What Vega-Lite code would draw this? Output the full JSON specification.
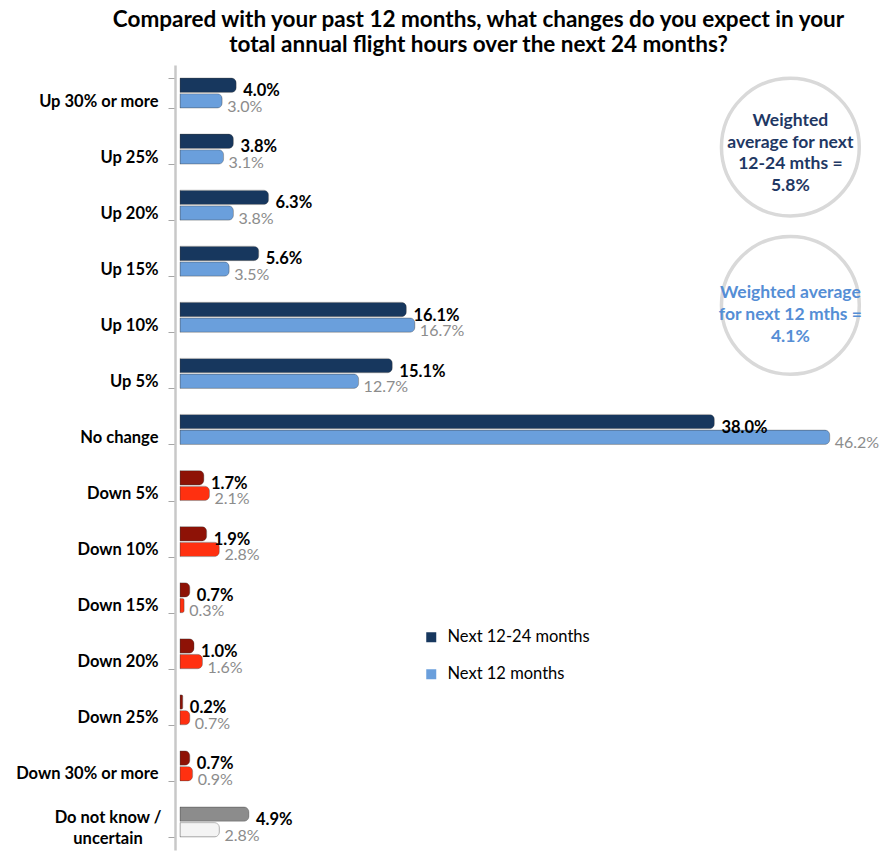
{
  "$schema": "https://vega.github.io/schema/vega-lite/v6.json",
  "width": 661,
  "height": 785,
  "autosize": {"type": "none"},
  "padding": {"left": 180, "top": 65, "right": 40, "bottom": 4},
  "background": "white",
  "config": {"font": "Lato", "view": {"stroke": null}},
  "title": {
    "text": ["Compared with your past 12 months, what changes do you expect in your", "total annual flight hours over the next 24 months?"],
    "fontSize": 22.5,
    "fontWeight": "bold",
    "font": "Lato",
    "color": "#000000",
    "anchor": "middle",
    "dx": -32,
    "offset": 1,
    "lineHeight": 25
  },
  "datasets": {
    "main": [
      {"answer": "Up 30% or more", "kind": "up", "series": "Next 12-24 months", "value": 4.0},
      {"answer": "Up 30% or more", "kind": "up", "series": "Next 12 months", "value": 3.0},
      {"answer": "Up 25%", "kind": "up", "series": "Next 12-24 months", "value": 3.8},
      {"answer": "Up 25%", "kind": "up", "series": "Next 12 months", "value": 3.1},
      {"answer": "Up 20%", "kind": "up", "series": "Next 12-24 months", "value": 6.3},
      {"answer": "Up 20%", "kind": "up", "series": "Next 12 months", "value": 3.8},
      {"answer": "Up 15%", "kind": "up", "series": "Next 12-24 months", "value": 5.6},
      {"answer": "Up 15%", "kind": "up", "series": "Next 12 months", "value": 3.5},
      {"answer": "Up 10%", "kind": "up", "series": "Next 12-24 months", "value": 16.1},
      {"answer": "Up 10%", "kind": "up", "series": "Next 12 months", "value": 16.7},
      {"answer": "Up 5%", "kind": "up", "series": "Next 12-24 months", "value": 15.1},
      {"answer": "Up 5%", "kind": "up", "series": "Next 12 months", "value": 12.7},
      {"answer": "No change", "kind": "up", "series": "Next 12-24 months", "value": 38.0},
      {"answer": "No change", "kind": "up", "series": "Next 12 months", "value": 46.2},
      {"answer": "Down 5%", "kind": "down", "series": "Next 12-24 months", "value": 1.7},
      {"answer": "Down 5%", "kind": "down", "series": "Next 12 months", "value": 2.1},
      {"answer": "Down 10%", "kind": "down", "series": "Next 12-24 months", "value": 1.9},
      {"answer": "Down 10%", "kind": "down", "series": "Next 12 months", "value": 2.8},
      {"answer": "Down 15%", "kind": "down", "series": "Next 12-24 months", "value": 0.7},
      {"answer": "Down 15%", "kind": "down", "series": "Next 12 months", "value": 0.3},
      {"answer": "Down 20%", "kind": "down", "series": "Next 12-24 months", "value": 1.0},
      {"answer": "Down 20%", "kind": "down", "series": "Next 12 months", "value": 1.6},
      {"answer": "Down 25%", "kind": "down", "series": "Next 12-24 months", "value": 0.2},
      {"answer": "Down 25%", "kind": "down", "series": "Next 12 months", "value": 0.7},
      {"answer": "Down 30% or more", "kind": "down", "series": "Next 12-24 months", "value": 0.7},
      {"answer": "Down 30% or more", "kind": "down", "series": "Next 12 months", "value": 0.9},
      {"answer": "Do not know / uncertain", "kind": "unknown", "series": "Next 12-24 months", "value": 4.9},
      {"answer": "Do not know / uncertain", "kind": "unknown", "series": "Next 12 months", "value": 2.8}
    ],
    "lastlabel": [{"answer": "Do not know / uncertain", "x": 0, "text": "Do not know /\nuncertain"}],
    "note1": [{"answer": "Up 25%", "x": 43.4, "note": "Weighted\naverage for next\n12-24 mths =\n5.8%"}],
    "note2": [{"answer": "Up 10%", "x": 43.4, "note": "Weighted average\nfor next 12 mths =\n4.1%"}]
  },
  "layer": [
    {
      "data": {"name": "main"},
      "mark": {"type": "bar", "cornerRadiusEnd": 5, "stroke": "#404040", "strokeWidth": 0.6, "strokeOpacity": 0.5},
      "encoding": {
        "y": {
          "field": "answer", "type": "nominal", "sort": null,
          "scale": {"paddingInner": 0.465, "paddingOuter": 0.2325},
          "axis": {
            "title": null,
            "offset": 5,
            "labelFontSize": 16.5,
            "labelFontWeight": "bold",
            "labelColor": "#000000",
            "labelFont": "Lato",
            "labelPadding": 10,
            "labelOffset": 8,
            "labelExpr": "datum.value === 'Do not know / uncertain' ? '' : datum.label",
            "tickSize": 7,
            "tickBand": "extent",
            "tickColor": "#A6A6A6",
            "domainColor": "#C8C8C8",
            "domainWidth": 2.5
          }
        },
        "yOffset": {"field": "series", "type": "nominal", "sort": ["Next 12-24 months", "Next 12 months"], "scale": {"paddingInner": 0.08}},
        "x": {"field": "value", "type": "quantitative", "scale": {"domain": [0, 47], "nice": false}, "axis": null},
        "color": {
          "condition": [
            {"test": "datum.kind === 'down' && datum.series === 'Next 12-24 months'", "value": "#8E1206"},
            {"test": "datum.kind === 'down' && datum.series === 'Next 12 months'", "value": "#FF3010"},
            {"test": "datum.kind === 'unknown' && datum.series === 'Next 12-24 months'", "value": "#8C8C8C"},
            {"test": "datum.kind === 'unknown' && datum.series === 'Next 12 months'", "value": "#F4F4F4"}
          ],
          "field": "series", "type": "nominal",
          "scale": {"domain": ["Next 12-24 months", "Next 12 months"], "range": ["#17375E", "#6A9FDC"]},
          "legend": {
            "title": null,
            "orient": "none",
            "legendX": 243,
            "legendY": 564,
            "symbolType": "square",
            "symbolSize": 100,
            "symbolStrokeWidth": 0,
            "labelFontSize": 16.5,
            "labelFont": "Lato",
            "labelColor": "#000000",
            "labelOffset": 8,
            "rowPadding": 20,
            "padding": 0
          }
        }
      }
    },
    {
      "data": {"name": "lastlabel"},
      "mark": {"type": "text", "align": "center", "baseline": "middle", "lineBreak": "\n", "lineHeight": 21, "fontSize": 16.5, "fontWeight": "bold", "color": "#000000", "font": "Lato", "dx": -72, "dy": -4},
      "encoding": {
        "y": {"field": "answer", "type": "nominal", "sort": null},
        "x": {"field": "x", "type": "quantitative"},
        "text": {"field": "text"}
      }
    },
    {
      "data": {"name": "main"},
      "transform": [
        {"filter": "datum.series === 'Next 12-24 months'"},
        {"calculate": "format(datum.value, '.1f') + '%'", "as": "label"}
      ],
      "mark": {"type": "text", "align": "left", "baseline": "middle", "dx": 7, "dy": 6, "fontSize": 16.5, "fontWeight": "bold", "color": "#000000", "font": "Lato"},
      "encoding": {
        "y": {"field": "answer", "type": "nominal", "sort": null},
        "yOffset": {"field": "series", "type": "nominal", "sort": ["Next 12-24 months", "Next 12 months"]},
        "x": {"field": "value", "type": "quantitative"},
        "text": {"field": "label"}
      }
    },
    {
      "data": {"name": "main"},
      "transform": [
        {"filter": "datum.series === 'Next 12 months'"},
        {"calculate": "format(datum.value, '.1f') + '%'", "as": "label"}
      ],
      "mark": {"type": "text", "align": "left", "baseline": "middle", "dx": 5, "dy": 6, "fontSize": 16, "color": "#8C8C8C", "font": "Lato"},
      "encoding": {
        "y": {"field": "answer", "type": "nominal", "sort": null},
        "yOffset": {"field": "series", "type": "nominal", "sort": ["Next 12-24 months", "Next 12 months"]},
        "x": {"field": "value", "type": "quantitative"},
        "text": {"field": "label"}
      }
    },
    {
      "data": {"name": "note1"},
      "mark": {"type": "point", "shape": "circle", "size": 19000, "filled": true, "fill": "white", "stroke": "#D9D9D9", "strokeWidth": 3.5, "opacity": 1, "yOffset": -2},
      "encoding": {
        "y": {"field": "answer", "type": "nominal", "sort": null},
        "x": {"field": "x", "type": "quantitative"}
      }
    },
    {
      "data": {"name": "note1"},
      "mark": {"type": "text", "align": "center", "baseline": "middle", "lineBreak": "\n", "lineHeight": 21.5, "fontSize": 17.5, "fontWeight": "bold", "color": "#1F3864", "font": "Lato", "dy": -28},
      "encoding": {
        "y": {"field": "answer", "type": "nominal", "sort": null},
        "x": {"field": "x", "type": "quantitative"},
        "text": {"field": "note"}
      }
    },
    {
      "data": {"name": "note2"},
      "mark": {"type": "point", "shape": "circle", "size": 19000, "filled": true, "fill": "white", "stroke": "#D9D9D9", "strokeWidth": 3.5, "opacity": 1, "yOffset": -12},
      "encoding": {
        "y": {"field": "answer", "type": "nominal", "sort": null},
        "x": {"field": "x", "type": "quantitative"}
      }
    },
    {
      "data": {"name": "note2"},
      "mark": {"type": "text", "align": "center", "baseline": "middle", "lineBreak": "\n", "lineHeight": 22, "fontSize": 17.5, "fontWeight": "bold", "color": "#558ED5", "font": "Lato", "dy": -24},
      "encoding": {
        "y": {"field": "answer", "type": "nominal", "sort": null},
        "x": {"field": "x", "type": "quantitative"},
        "text": {"field": "note"}
      }
    }
  ]
}
